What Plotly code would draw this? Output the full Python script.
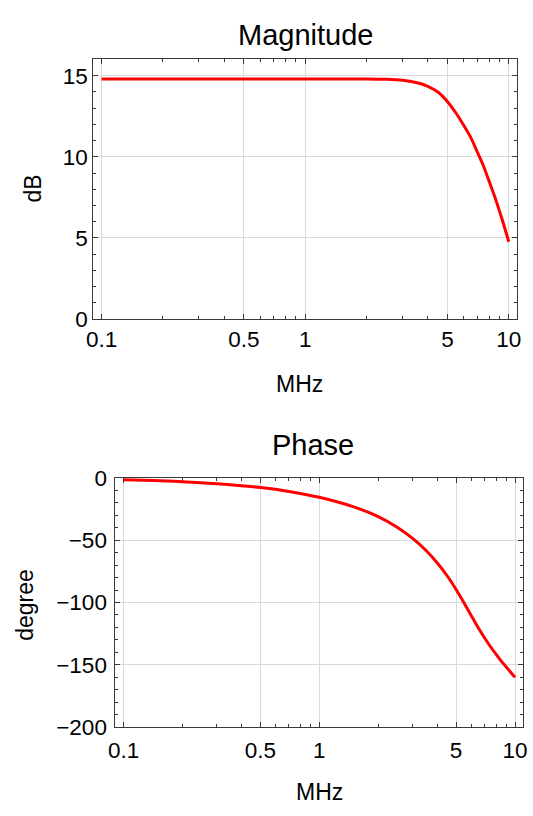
import plotly.graph_objects as go

W, H = 533, 816

# ---- data ----
mag_freq_mhz = [0.1, 0.2, 0.5, 1.0, 1.5, 2.0, 2.5, 3.0, 3.5, 4.0, 4.5, 5.0, 5.5, 6.0, 6.5, 7.0, 7.5, 8.0, 8.5, 9.0, 9.5, 10.0]
mag_db       = [14.8, 14.8, 14.8, 14.8, 14.8, 14.8, 14.78, 14.72, 14.58, 14.35, 13.98, 13.4, 12.7, 11.95, 11.2, 10.3, 9.45, 8.5, 7.6, 6.65, 5.7, 4.76]

phase_freq_mhz = [0.1, 0.2, 0.3, 0.5, 0.7, 1.0, 1.5, 2.0, 2.5, 3.0, 3.5, 4.0, 4.5, 5.0, 5.5, 6.0, 6.5, 7.0, 7.5, 8.0, 8.5, 9.0, 9.5, 10.0]
phase_deg      = [-1.5, -3.0, -4.6, -7.7, -10.8, -15.5, -23.2, -31.0, -39.5, -48.5, -58.0, -68.0, -78.5, -89.5, -100.5, -111.0, -120.5, -128.5, -135.5, -141.5, -147.0, -151.5, -156.0, -160.0]

x_tickvals = [0.1, 0.5, 1, 5, 10]
x_ticktext = ["0.1", "0.5", "1", "5", "10"]
x_minor = [0.2, 0.3, 0.4, 0.6, 0.7, 0.8, 0.9, 2, 3, 4, 6, 7, 8, 9]

mag_tickvals = [0, 5, 10, 15]
mag_ticktext = ["0", "5", "10", "15"]
mag_minor = [v for v in range(0, 17) if v % 5 != 0]

ph_tickvals = [0, -50, -100, -150, -200]
ph_ticktext = ["0", "\u221250", "\u2212100", "\u2212150", "\u2212200"]
ph_minor = [v for v in range(-200, 1, 10) if v % 50 != 0]

titles = ["Magnitude", "Phase"]
x_label = "MHz"
y_labels = ["dB", "degree"]

# ---- styling ----
FONT = "Liberation Sans, Arial, sans-serif"
FRAME = "#3a3a3a"
GRID = "#dadada"
RED = "#ff0000"


def px(x):
    return x / W


def py(y):
    return 1 - y / H


fig = go.Figure()
fig.add_trace(go.Scatter(x=mag_freq_mhz, y=mag_db, mode="lines", line=dict(color=RED, width=3, shape="spline", smoothing=0.8),
                         xaxis="x", yaxis="y", showlegend=False))
fig.add_trace(go.Scatter(x=phase_freq_mhz, y=phase_deg, mode="lines", line=dict(color=RED, width=3, shape="spline", smoothing=0.8),
                         xaxis="x2", yaxis="y2", showlegend=False))

common_x = dict(type="log", range=[-1.0415, 1.0415], tickvals=x_tickvals, ticktext=x_ticktext,
                ticks="inside", ticklen=5, tickcolor=FRAME, tickwidth=1,
                showline=True, linecolor=FRAME, linewidth=1, mirror="allticks",
                showgrid=True, gridcolor=GRID, gridwidth=1, zeroline=False,
                tickfont=dict(family=FONT, size=22.5, color="black"),
                minor=dict(tickvals=x_minor, ticks="inside", ticklen=3, tickcolor=FRAME, showgrid=False))
common_y = dict(ticks="inside", ticklen=5, tickcolor=FRAME, tickwidth=1,
                showline=True, linecolor=FRAME, linewidth=1, mirror="allticks",
                showgrid=True, gridcolor=GRID, gridwidth=1, zeroline=False,
                tickfont=dict(family=FONT, size=22.5, color="black"))

fig.update_layout(
    width=W, height=H,
    margin=dict(l=0, r=0, t=0, b=0),
    paper_bgcolor="white", plot_bgcolor="white",
    xaxis=dict(domain=[px(88), px(521)], anchor="y", ticklabelstandoff=0, **common_x),
    yaxis=dict(domain=[py(316.7), py(49)], anchor="x", range=[0, 16], tickvals=mag_tickvals, ticktext=mag_ticktext,
               minor=dict(tickvals=mag_minor, ticks="inside", ticklen=3, tickcolor=FRAME, showgrid=False),
               ticklabelstandoff=0, **common_y),
    xaxis2=dict(domain=[px(110.7), px(527)], anchor="y2", ticklabelstandoff=3, **common_x),
    yaxis2=dict(domain=[py(737.7), py(480.7)], anchor="x2", range=[-200, 0], tickvals=ph_tickvals, ticktext=ph_ticktext,
                minor=dict(tickvals=ph_minor, ticks="inside", ticklen=3, tickcolor=FRAME, showgrid=False),
                ticklabelstandoff=3, **common_y),
)

ann = []
ann.append(dict(text=titles[0], x=px(304.5), y=py(23.5), font=dict(size=29)))
ann.append(dict(text=titles[1], x=px(312.2), y=py(446.5), font=dict(size=29)))
ann.append(dict(text=x_label, x=px(298.7), y=py(384), font=dict(size=23)))
ann.append(dict(text=x_label, x=px(319.2), y=py(804.7), font=dict(size=23)))
ann.append(dict(text=y_labels[0], x=px(26.7), y=py(182), font=dict(size=23), textangle=-90))
ann.append(dict(text=y_labels[1], x=px(19), y=py(612), font=dict(size=23), textangle=-90))
for a in ann:
    a.update(xref="paper", yref="paper", xanchor="center", yanchor="middle", showarrow=False)
    a["font"].update(family=FONT, color="black")
fig.update_layout(annotations=ann)

fig.write_html("out.html")
